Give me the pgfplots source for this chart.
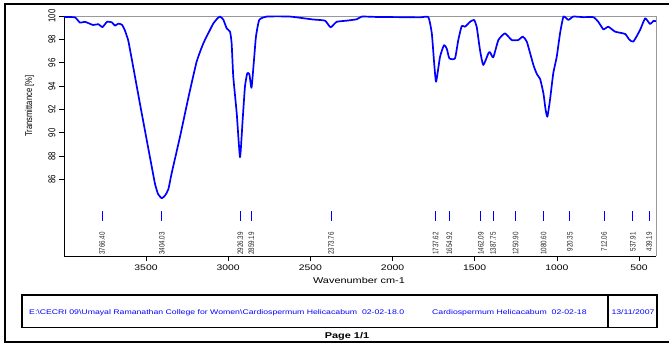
\documentclass[border=0pt]{standalone}
\usepackage{fontspec}
\setmainfont{Liberation Sans}[FakeStretch=1.3]
\newfontfamily\narrowfont{Liberation Sans}[FakeStretch=0.78]
\usepackage{graphicx}
\usepackage{pgfplots}
\pgfplotsset{compat=1.18}
\definecolor{specblue}{RGB}{0,0,255}
\begin{document}
\begin{tikzpicture}
\useasboundingbox (0pt,0pt) rectangle (669pt,345pt);
\begin{axis}[
  at={(64pt,89pt)}, anchor=south west,
  scale only axis, width=592pt, height=240pt,
  x dir=reverse, xmin=397, xmax=3999, ymin=79.43, ymax=100,
  axis x line*=bottom, axis y line*=left,
  axis line style={black, line width=0.8pt},
  xtick={500,1000,1500,2000,2500,3000,3500},
  ytick={86,88,90,92,94,96,98,100},
  tick align=outside, major tick length=5pt,
  tick style={black, line width=0.6pt},
  /pgf/number format/assume math mode=true,
  /pgf/number format/1000 sep={},
  xticklabel style={font=\fontsize{8}{8}\selectfont},
  yticklabel style={font=\narrowfont\fontsize{10}{10}\selectfont, rotate=90, anchor=south},
  clip=false,
]
\draw[gray!80, line width=0.8pt] (rel axis cs:0,1) -- (rel axis cs:1,1) -- (rel axis cs:1,0);
\addplot[specblue, line width=1.7pt, smooth, tension=0.3, line join=round] coordinates {
(3999,99.92) (3932,99.88) (3902,99.43) (3871,99.50) (3822,99.23) (3790,99.30)
(3765,99.05) (3737,99.50) (3707,99.45) (3689,99.17) (3669,99.34) (3646,99.25)
(3628,98.75) (3609,97.95) (3597,97.09) (3577,95.57) (3537,92.49) (3496,89.40)
(3456,86.40) (3445,85.60) (3427,84.75) (3404,84.38) (3384,84.62) (3364,85.15)
(3344,86.52) (3293,89.66) (3243,92.95) (3192,96.08) (3151,97.66) (3111,98.80)
(3090,99.37) (3065,99.80) (3050,99.95) (3030,99.70) (3009,98.94)
(2989,98.66) (2979,97.66) (2969,94.80) (2948,91.66) (2928,87.90) (2912,91.09)
(2898,93.94) (2884,95.09) (2871,95.00) (2858,93.85) (2843,96.23) (2831,98.23)
(2811,99.66) (2766,99.95) (2624,99.95) (2484,99.70) (2411,99.60) (2377,99.03)
(2340,99.50) (2279,99.60) (2218,99.72) (2186,99.95) (2100,99.92) (1954,99.90)
(1833,99.88) (1782,99.90) (1761,98.50) (1747,96.00) (1735,94.37) (1711,96.50)
(1687,97.50) (1670,97.20) (1654,96.37) (1620,96.37) (1600,97.94) (1579,99.14)
(1559,99.08) (1528,99.51) (1504,99.66) (1488,99.08) (1468,97.09) (1448,95.80)
(1417,96.80) (1407,96.90) (1387,96.46) (1356,97.94) (1316,98.51) (1275,97.94)
(1235,97.94) (1208,98.23) (1183,97.80) (1143,95.80) (1121,95.00) (1102,94.60)
(1082,93.37) (1069,92.00) (1058,91.37) (1042,92.80) (1022,95.10) (1001,96.50)
(981,98.50) (960,99.95) (930,99.66) (900,99.95) (839,99.90) (778,99.90)
(748,99.50) (717,98.86) (687,99.08) (646,98.66) (585,98.46) (561,98.00)
(535,97.80) (494,98.80) (463,99.80) (433,99.31) (413,99.57) (397,99.55)
};
\addplot[specblue, line width=1pt, unbounded coords=jump] coordinates {
(3766.40,82.46) (3766.40,83.32) (3766.40,nan)
(3404.03,82.46) (3404.03,83.32) (3404.03,nan)
(2926.39,82.46) (2926.39,83.32) (2926.39,nan)
(2859.19,82.46) (2859.19,83.32) (2859.19,nan)
(2373.76,82.46) (2373.76,83.32) (2373.76,nan)
(1737.62,82.46) (1737.62,83.32) (1737.62,nan)
(1654.92,82.46) (1654.92,83.32) (1654.92,nan)
(1462.09,82.46) (1462.09,83.32) (1462.09,nan)
(1387.75,82.46) (1387.75,83.32) (1387.75,nan)
(1250.90,82.46) (1250.90,83.32) (1250.90,nan)
(1080.60,82.46) (1080.60,83.32) (1080.60,nan)
(920.35,82.46) (920.35,83.32) (920.35,nan)
(712.06,82.46) (712.06,83.32) (712.06,nan)
(537.91,82.46) (537.91,83.32) (537.91,nan)
(439.19,82.46) (439.19,83.32)
};
\begin{scope}[every node/.style={rotate=90, anchor=east, inner sep=0.5pt, text=black!85, font=\narrowfont\fontsize{8}{8}\selectfont}]
\node at (axis cs:3766.40,81.52) {3766.40};
\node at (axis cs:3404.03,81.52) {3404.03};
\node at (axis cs:2926.39,81.52) {2926.39};
\node at (axis cs:2859.19,81.52) {2859.19};
\node at (axis cs:2373.76,81.52) {2373.76};
\node at (axis cs:1737.62,81.52) {1737.62};
\node at (axis cs:1654.92,81.52) {1654.92};
\node at (axis cs:1462.09,81.52) {1462.09};
\node at (axis cs:1387.75,81.52) {1387.75};
\node at (axis cs:1250.90,81.52) {1250.90};
\node at (axis cs:1080.60,81.52) {1080.60};
\node at (axis cs:920.35,81.52) {920.35};
\node at (axis cs:712.06,81.52) {712.06};
\node at (axis cs:537.91,81.52) {537.91};
\node at (axis cs:439.19,81.52) {439.19};
\end{scope}
\end{axis}
% labels
\node[rotate=90, font=\narrowfont\fontsize{9.8}{10}\selectfont] at (29.5pt,239pt) {Transmittance [\%]};
\node[font=\fontsize{8.4}{9}\selectfont] at (359pt,65pt) {Wavenumber cm-1};
% footer box
\draw[black, line width=1.2pt] (22pt,17.3pt) rectangle (657pt,50pt);
\draw[black, line width=1.2pt] (608pt,17.3pt) -- (608pt,50pt);
\node[anchor=west, text=specblue, inner sep=0pt, font=\fontsize{6.7}{7}\selectfont] at (29pt,32.5pt) {E:\textbackslash CECRI 09\textbackslash Umayal Ramanathan College for Women\textbackslash Cardiospermum Helicacabum\ \ 02-02-18.0};
\node[anchor=west, text=specblue, inner sep=0pt, font=\fontsize{6.7}{7}\selectfont] at (432pt,32.5pt) {Cardiospermum Helicacabum\ \ 02-02-18};
\node[text=specblue, inner sep=0pt, font=\fontsize{6.7}{7}\selectfont] at (633pt,32.5pt) {13/11/2007};
\node[font=\bfseries\fontsize{8.4}{9}\selectfont] at (347pt,9pt) {Page 1/1};
% page frame
\draw[black, line width=2pt] (4pt,341pt) -- (669pt,341pt);
\draw[black, line width=2pt] (5pt,341pt) -- (5pt,3pt);
\draw[black, line width=2pt] (4pt,3pt) -- (669pt,3pt);
\end{tikzpicture}
\end{document}
